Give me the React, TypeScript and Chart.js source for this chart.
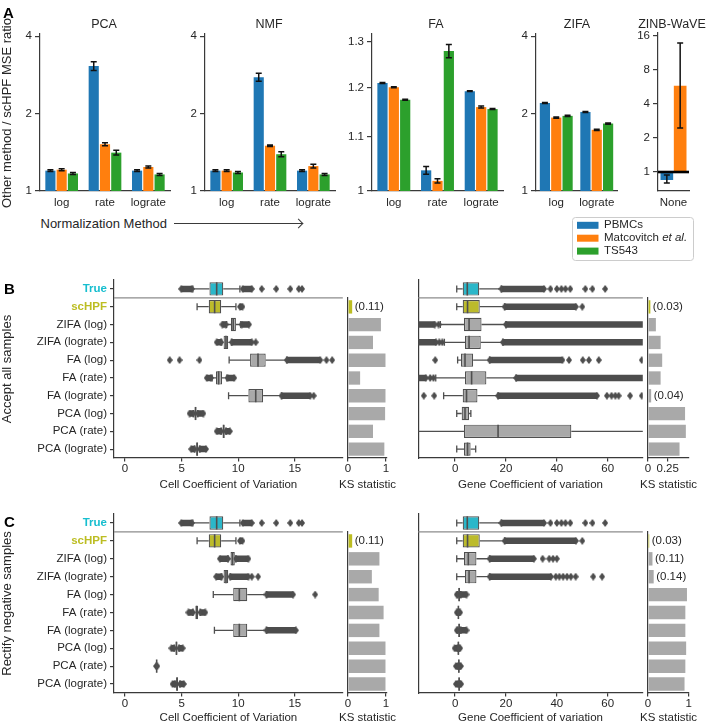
import React, { useEffect, useRef } from 'react';
import { Chart, registerables } from 'chart.js';

Chart.register(...registerables);

const FONT = "'Liberation Sans', Arial, Helvetica, sans-serif";
const TEXT = '#262626';
const AXIS = '#3a3a3a';
const EDGE = '#4f4f4f';
const OUTLIER = '#4d4d4d';
const GRAY_FILL = '#a9a9a9';
const TRUE_FILL = '#2bb7c9';
const SCHPF_FILL = '#bcbb2b';
const TRUE_LABEL = '#17becf';
const SCHPF_LABEL = '#bcbd22';

Chart.defaults.font.family = FONT;
Chart.defaults.color = TEXT;

// ---------------- Panel A data ----------------
const seriesNames = ['PBMCs', 'Matcovitch et al.', 'TS543'];
const seriesColors = ['#1f77b4', '#ff7f0e', '#2ca02c'];

const pcaMethods = ['log', 'rate', 'lograte'];
const pcaPBMC = [1.2, 3.06, 1.2];
const pcaMatc = [1.21, 1.52, 1.24];
const pcaTS = [1.17, 1.41, 1.16];
const pcaErrPBMC = [0.01, 0.12, 0.01];
const pcaErrMatc = [0.01, 0.02, 0.01];
const pcaErrTS = [0.01, 0.03, 0.01];

const nmfMethods = ['log', 'rate', 'lograte'];
const nmfPBMC = [1.2, 2.77, 1.2];
const nmfMatc = [1.2, 1.5, 1.25];
const nmfTS = [1.18, 1.39, 1.16];
const nmfErrPBMC = [0.01, 0.1, 0.01];
const nmfErrMatc = [0.01, 0.01, 0.02];
const nmfErrTS = [0.01, 0.03, 0.01];

const faMethods = ['log', 'rate', 'lograte'];
const faPBMC = [1.209, 1.037, 1.192];
const faMatc = [1.2, 1.018, 1.159];
const faTS = [1.174, 1.279, 1.155];
const faErrPBMC = [0.001, 0.007, 0.001];
const faErrMatc = [0.001, 0.004, 0.002];
const faErrTS = [0.001, 0.015, 0.001];

const zifaMethods = ['log', 'lograte'];
const zifaPBMC = [2.2, 2.03];
const zifaMatc = [1.93, 1.73];
const zifaTS = [1.96, 1.83];
const zifaErrPBMC = [0.01, 0.01];
const zifaErrMatc = [0.01, 0.01];
const zifaErrTS = [0.01, 0.01];

const zinbMethods = ['None'];
const zinbPBMC = [0.85];
const zinbMatc = [5.8];
const zinbLoPBMC = [0.8];
const zinbHiPBMC = [0.94];
const zinbLoMatc = [2.45];
const zinbHiMatc = [13.9];

const ratioTicks = [1, 2, 4];
const faTicks = [1, 1.1, 1.2, 1.3];
const zinbTicks = [1, 2, 4, 8, 16];

// ---------------- Panels B / C data ----------------
const boxRows = ['True', 'scHPF', 'ZIFA (log)', 'ZIFA (lograte)', 'FA (log)', 'FA (rate)', 'FA (lograte)', 'PCA (log)', 'PCA (rate)', 'PCA (lograte)'];
const ksRows = boxRows.slice(1);

// [whiskerLow, q1, median, q3, whiskerHigh]
const cellAcceptStats = [
  [6.0, 7.46, 8.1, 8.68, 10.15],
  [6.37, 7.4, 7.92, 8.5, 9.8],
  [8.98, 9.36, 9.56, 9.8, 10.23],
  [8.55, 8.71, 8.92, 9.12, 9.4],
  [9.2, 11.05, 11.75, 12.43, 14.3],
  [7.7, 8.04, 8.27, 8.57, 9.0],
  [9.15, 10.9, 11.55, 12.2, 13.83],
  [6.05, 6.16, 6.23, 6.31, 6.42],
  [8.5, 8.64, 8.71, 8.8, 8.92],
  [6.15, 6.3, 6.37, 6.46, 6.6],
];
const cellAcceptDenseLo = [[4.97, 5.9], null, [8.6, 8.9], [8.1, 8.48], null, [7.22, 7.6], null, [5.7, 6.05], [8.1, 8.5], [5.85, 6.15]];
const cellAcceptDenseHi = [[10.4, 11.2], [10.15, 10.38], [10.3, 10.96], [9.44, 11.2], [14.3, 17.25], [9.06, 9.65], [13.83, 16.37], [6.42, 6.93], [8.92, 9.27], [6.6, 7.16]];
const cellAcceptPoints = [[12.08, 13.36, 14.6, 15.35, 15.64], [], [], [11.55], [3.95, 4.82, 6.58, 17.8, 18.3], [], [16.67], [], [], []];

const cellRectifyStats = [
  [6.0, 7.46, 8.1, 8.68, 10.15],
  [6.37, 7.4, 7.92, 8.5, 9.8],
  [9.1, 9.32, 9.5, 9.7, 9.78],
  [8.55, 8.71, 8.92, 9.12, 9.3],
  [7.8, 9.56, 10.1, 10.8, 12.5],
  [6.0, 6.22, 6.33, 6.45, 6.65],
  [7.9, 9.56, 10.1, 10.8, 12.5],
  [4.35, 4.47, 4.55, 4.62, 4.78],
  [2.78, 2.78, 2.8, 2.82, 2.82],
  [4.42, 4.52, 4.6, 4.68, 4.85],
];
const cellRectifyDenseLo = [[4.97, 5.9], null, [8.38, 9.1], [8.05, 8.5], null, [5.6, 6.0], null, [4.1, 4.35], null, [4.2, 4.42]];
const cellRectifyDenseHi = [[10.4, 11.2], [10.15, 10.38], [9.8, 10.9], [9.3, 10.9], [12.5, 14.85], [6.65, 7.1], [12.5, 15.1], [4.78, 5.1], null, [4.85, 5.2]];
const cellRectifyPoints = [[12.08, 13.36, 14.6, 15.35, 15.64], [], [], [11.2, 11.76], [16.8], [], [], [], [2.74, 2.86], []];

const geneAcceptStats = [
  [0.65, 3.0, 4.8, 9.5, 18.2],
  [0.65, 3.0, 4.9, 9.7, 19.5],
  [-5.8, 3.5, 5.5, 10.4, 20],
  [-4.2, 3.9, 5.5, 10.1, 18.8],
  [1.0, 2.3, 3.9, 7.1, 13.6],
  [-7.6, 3.9, 6.5, 12.3, 24],
  [-4.5, 3.0, 4.5, 8.8, 16.9],
  [0.65, 2.6, 3.9, 5.5, 6.2],
  [-20, 3.5, 16.9, 45.7, 90],
  [0.65, 3.5, 4.9, 6.1, 8.1],
];
const geneAcceptDenseLo = [null, null, [-20, -8], [-20, -7.5], null, [-20, -11.5], null, null, null, null];
const geneAcceptDenseHi = [[18.2, 35], [19.5, 47.5], [20, 80], [18.8, 80], [13.6, 42.2], [24, 80], [16.9, 55.8], null, null, null];
const geneAcceptPoints = [
  [37.5, 40, 41.8, 43.4, 45.3, 51.2, 54, 59],
  [50],
  [-6.5],
  [-6.2, -5.0],
  [-7.8, 44.8, 50.2, 52.6, 56.5, 73.4],
  [-9.8, -8.5],
  [-12.3, -8.2, 59.7, 61.5, 63, 64.3, 68.8, 73.4],
  [], [], [],
];

const geneRectifyStats = [
  [0.65, 3.0, 4.8, 9.5, 18.2],
  [0.65, 3.0, 4.9, 9.7, 19.5],
  [0.65, 3.5, 5.2, 8.4, 13.6],
  [0.65, 3.9, 5.5, 8.4, 13.6],
  [1.0, 1.3, 1.6, 1.9, 2.2],
  [1.0, 1.1, 1.3, 1.5, 1.6],
  [1.0, 1.3, 1.6, 1.9, 2.2],
  [0.9, 1.0, 1.3, 1.5, 1.6],
  [1.1, 1.2, 1.5, 1.7, 1.8],
  [1.2, 1.3, 1.6, 1.8, 1.9],
];
const geneRectifyDenseLo = [null, null, null, null, [0.65, 1.0], [0.65, 1.0], [0.65, 1.0], [-0.2, 0.9], [0.3, 1.1], [0.3, 1.2]];
const geneRectifyDenseHi = [[18.2, 35], [19.5, 47.5], [13.6, 31], [13.6, 37.7], [2.2, 4.5], [1.6, 2.0], [2.2, 4.5], [1.6, 2.0], [1.8, 2.3], [1.9, 2.4]];
const geneRectifyPoints = [
  [37.5, 40, 41.8, 43.4, 45.3, 51.2, 54, 59],
  [50],
  [34.4, 37, 38.5, 40],
  [39.6, 41, 42.5, 44, 45.5, 47.4, 54.3, 57.8],
  [], [], [], [], [], [],
];

const ksAcceptCell = [0.11, 0.87, 0.66, 0.99, 0.32, 0.99, 0.98, 0.66, 0.96];
const ksAcceptCellText = ['(0.11)', '', '', '', '', '', '', '', ''];
const ksAcceptGene = [0.03, 0.1, 0.16, 0.18, 0.16, 0.04, 0.47, 0.48, 0.4];
const ksAcceptGeneText = ['(0.03)', '', '', '', '', '(0.04)', '', '', ''];
const ksRectifyCell = [0.11, 0.83, 0.63, 0.81, 0.94, 0.83, 0.99, 0.99, 0.99];
const ksRectifyCellText = ['(0.11)', '', '', '', '', '', '', '', ''];
const ksRectifyGene = [0.03, 0.11, 0.14, 0.96, 0.92, 0.92, 0.94, 0.92, 0.9];
const ksRectifyGeneText = ['(0.03)', '(0.11)', '(0.14)', '', '', '', '', '', ''];

const cellTicks = [0, 5, 10, 15];
const geneTicks = [0, 20, 40, 60];
const ksTicksWide = [0, 1];
const ksTicksNarrow = [0, 0.25];

// ---------------- helpers ----------------
const tickFont = { family: FONT, size: 11.5 };
const axisBorder = { display: true, color: AXIS, width: 1.2 };
const tickMarks = (len: number) => ({ display: true, drawOnChartArea: false, drawTicks: true, tickLength: len, color: AXIS, lineWidth: 1.2, offset: false });

const baseOptions = (padTop = 10, padRight = 8) => ({
  responsive: false,
  maintainAspectRatio: false,
  animation: false,
  events: [],
  layout: { padding: { top: padTop, right: padRight, bottom: 0, left: 0 } },
  plugins: { legend: { display: false }, tooltip: { enabled: false }, title: { display: false } },
});

const errorBarPlugin = {
  id: 'errorBars',
  afterDatasetsDraw(chart: any) {
    const ctx = chart.ctx;
    const yScale = chart.scales.y;
    chart.data.datasets.forEach((ds: any, i: number) => {
      if (!ds.errLo) return;
      const meta = chart.getDatasetMeta(i);
      meta.data.forEach((el: any, j: number) => {
        const lo = ds.errLo[j];
        const hi = ds.errHi[j];
        if (lo == null || hi == null) return;
        const x = el.x;
        const y1 = yScale.getPixelForValue(lo);
        const y2 = yScale.getPixelForValue(hi);
        ctx.save();
        ctx.strokeStyle = '#111111';
        ctx.lineWidth = 1.5;
        ctx.beginPath();
        ctx.moveTo(x, y1); ctx.lineTo(x, y2);
        ctx.moveTo(x - 3, y1); ctx.lineTo(x + 3, y1);
        ctx.moveTo(x - 3, y2); ctx.lineTo(x + 3, y2);
        ctx.stroke();
        ctx.restore();
      });
    });
  },
};

const refLinePlugin = (value: number) => ({
  id: 'refLine',
  afterDatasetsDraw(chart: any) {
    const ctx = chart.ctx;
    const a = chart.chartArea;
    const y = chart.scales.y.getPixelForValue(value);
    ctx.save();
    ctx.strokeStyle = '#000000';
    ctx.lineWidth = 2.6;
    ctx.beginPath();
    ctx.moveTo(a.left, y); ctx.lineTo(a.right, y);
    ctx.stroke();
    ctx.restore();
  },
});

const separatorPlugin = {
  id: 'separator',
  afterDatasetsDraw(chart: any) {
    const ctx = chart.ctx;
    const a = chart.chartArea;
    const ys = chart.scales.y;
    const y = (ys.getPixelForValue(0) + ys.getPixelForValue(1)) / 2;
    ctx.save();
    ctx.strokeStyle = '#8c8c8c';
    ctx.lineWidth = 1.2;
    ctx.beginPath();
    ctx.moveTo(a.left, y); ctx.lineTo(a.right, y);
    ctx.stroke();
    ctx.restore();
  },
};

// x-axis title drawn without width constraint, centred on the plot area
const freeTitlePlugin = (text: string) => ({
  id: 'freeTitle',
  afterDraw(chart: any) {
    const ctx = chart.ctx;
    const a = chart.chartArea;
    ctx.save();
    ctx.font = `11.5px ${FONT}`;
    ctx.fillStyle = TEXT;
    ctx.textAlign = 'center';
    ctx.textBaseline = 'middle';
    ctx.fillText(text, (a.left + a.right) / 2, chart.height - 6.9);
    ctx.restore();
  },
});

const ksTextPlugin = {
  id: 'ksText',
  afterDatasetsDraw(chart: any) {
    const ctx = chart.ctx;
    const ds = chart.data.datasets[0];
    const meta = chart.getDatasetMeta(0);
    ctx.save();
    ctx.font = `11.5px ${FONT}`;
    ctx.fillStyle = TEXT;
    ctx.textBaseline = 'middle';
    ctx.textAlign = 'left';
    meta.data.forEach((el: any, j: number) => {
      const t = ds.ksText[j];
      if (t) ctx.fillText(t, el.x + 2.5, el.y);
    });
    ctx.restore();
  },
};

function makeDiamond(): HTMLCanvasElement {
  const c = document.createElement('canvas');
  c.width = 6; c.height = 8;
  const g = c.getContext('2d')!;
  g.fillStyle = OUTLIER;
  g.beginPath();
  g.moveTo(3, 0); g.lineTo(6, 4); g.lineTo(3, 8); g.lineTo(0, 4);
  g.closePath();
  g.fill();
  return c;
}

// ---------------- Panel A config ----------------
interface ASpec {
  labels: string[];
  values: number[][];
  lo: number[][];
  hi: number[][];
  min: number;
  max: number;
  ticks: number[];
  yw: number;
  catPct: number;
  barPct: number;
  refLine?: number;
}

const symLo = (v: number[], e: number[]) => v.map((x, i) => x - e[i]);
const symHi = (v: number[], e: number[]) => v.map((x, i) => x + e[i]);

function barAConfig(s: ASpec) {
  const plugins: any[] = [errorBarPlugin];
  if (s.refLine !== undefined) plugins.push(refLinePlugin(s.refLine));
  return {
    type: 'bar',
    data: {
      labels: s.labels,
      datasets: s.values.map((vals, k) => ({
        label: seriesNames[k],
        data: vals.map((v) => [1, v]),
        backgroundColor: seriesColors[k],
        borderWidth: 0,
        categoryPercentage: s.catPct,
        barPercentage: s.barPct,
        errLo: s.lo[k],
        errHi: s.hi[k],
      })),
    },
    options: {
      ...baseOptions(10, 8),
      scales: {
        x: {
          type: 'category',
          afterFit: (sc: any) => { sc.height = 22; },
          grid: { display: false, drawTicks: false },
          border: axisBorder,
          ticks: { font: tickFont, color: TEXT, padding: 4.5, maxRotation: 0, autoSkip: false },
        },
        y: {
          type: 'logarithmic',
          min: s.min,
          max: s.max,
          afterBuildTicks: (sc: any) => { sc.ticks = s.ticks.map((v) => ({ value: v })); },
          afterFit: (sc: any) => { sc.width = s.yw; },
          grid: tickMarks(5),
          border: axisBorder,
          ticks: { font: tickFont, color: TEXT, padding: 3, autoSkip: false, callback: (v: any) => String(v) },
        },
      },
    },
    plugins,
  };
}

// ---------------- Box chart config ----------------
interface BoxSpec {
  stats: number[][];
  denseLo: (number[] | null)[];
  denseHi: (number[] | null)[];
  points: number[][];
  min: number;
  max: number;
  ticks: number[];
  yw: number;
  xh: number;
  showLabels: boolean;
  yTitle?: string;
  xTitle: string;
}

function boxConfig(s: BoxSpec) {
  const diamond = makeDiamond();
  const boxColors = boxRows.map((_, i) => (i === 0 ? TRUE_FILL : i === 1 ? SCHPF_FILL : GRAY_FILL));
  const labelColors = boxRows.map((_, i) => (i === 0 ? TRUE_LABEL : i === 1 ? SCHPF_LABEL : TEXT));
  const caps: any[] = [];
  const medians: any[] = [];
  const outs: any[] = [];
  s.stats.forEach((st, i) => {
    const row = boxRows[i];
    if (st[0] < st[1]) caps.push({ x: st[0], y: row });
    if (st[4] > st[3]) caps.push({ x: st[4], y: row });
    medians.push({ x: st[2], y: row });
    s.points[i].forEach((p) => outs.push({ x: p, y: row }));
    [s.denseLo[i], s.denseHi[i]].forEach((r) => {
      if (r) { outs.push({ x: r[0], y: row }); outs.push({ x: r[1], y: row }); }
    });
  });
  const thin = { type: 'bar', backgroundColor: EDGE, barThickness: 1.3, grouped: false, inflateAmount: 0, borderWidth: 0, order: 6 };
  const dense = { type: 'bar', backgroundColor: OUTLIER, barThickness: 6.5, grouped: false, inflateAmount: 0, borderWidth: 0, order: 5 };
  return {
    type: 'bar',
    data: {
      labels: boxRows,
      datasets: [
        { ...thin, data: s.stats.map((st) => (st[0] < st[1] ? [st[0], st[1]] : null)) },
        { ...thin, data: s.stats.map((st) => (st[4] > st[3] ? [st[3], st[4]] : null)) },
        { ...dense, data: s.denseLo },
        { ...dense, data: s.denseHi },
        {
          type: 'bar',
          data: s.stats.map((st) => [st[1], st[3]]),
          backgroundColor: boxColors,
          borderColor: EDGE,
          borderWidth: 1.2,
          borderSkipped: false,
          barPercentage: 0.75,
          categoryPercentage: 1,
          grouped: false,
          order: 2,
        },
        {
          type: 'scatter', data: caps, pointStyle: 'line', pointRotation: 90, pointRadius: 3.5,
          pointBorderColor: EDGE, pointBorderWidth: 1.3, order: 3,
        },
        {
          type: 'scatter', data: outs, pointStyle: diamond, pointRadius: 3, order: 4,
        },
        {
          type: 'scatter', data: medians, pointStyle: 'line', pointRotation: 90, pointRadius: 6.6,
          pointBorderColor: EDGE, pointBorderWidth: 1.6, order: 1,
        },
      ],
    },
    options: {
      ...baseOptions(10, 8),
      indexAxis: 'y',
      scales: {
        x: {
          type: 'linear',
          min: s.min,
          max: s.max,
          afterBuildTicks: (sc: any) => { sc.ticks = s.ticks.map((v) => ({ value: v })); },
          afterFit: (sc: any) => { sc.height = s.xh; },
          grid: tickMarks(3.5),
          border: axisBorder,
          ticks: { font: tickFont, color: TEXT, padding: 0, maxRotation: 0, autoSkip: false, callback: (v: any) => String(v) },
        },
        y: {
          type: 'category',
          offset: true,
          afterFit: (sc: any) => { sc.width = s.yw; },
          grid: s.showLabels ? tickMarks(4) : { display: false },
          border: axisBorder,
          ticks: {
            display: s.showLabels,
            autoSkip: false,
            padding: 3,
            color: (c: any) => labelColors[c.index] || TEXT,
            font: (c: any) => ({ family: FONT, size: 11.5, weight: c.index < 2 ? 'bold' : 'normal' }),
          },
          title: s.yTitle
            ? { display: true, text: s.yTitle, font: { family: FONT, size: 13 }, color: TEXT, padding: 0 }
            : { display: false },
        },
      },
    },
    plugins: [separatorPlugin, freeTitlePlugin(s.xTitle)],
  };
}

// ---------------- KS chart config ----------------
function ksConfig(vals: number[], texts: string[], max: number, ticks: number[], xh: number, yw: number, padRight: number) {
  return {
    type: 'bar',
    data: {
      labels: ksRows,
      datasets: [{
        data: vals,
        backgroundColor: ksRows.map((_, i) => (i === 0 ? SCHPF_LABEL : GRAY_FILL)),
        borderWidth: 0,
        barPercentage: 0.75,
        categoryPercentage: 1,
        ksText: texts,
      }],
    },
    options: {
      ...baseOptions(10, padRight),
      indexAxis: 'y',
      scales: {
        x: {
          type: 'linear',
          min: 0,
          max,
          afterBuildTicks: (sc: any) => { sc.ticks = ticks.map((v) => ({ value: v })); },
          afterFit: (sc: any) => { sc.height = xh; },
          grid: tickMarks(3.5),
          border: axisBorder,
          ticks: { font: tickFont, color: TEXT, padding: 0, maxRotation: 0, autoSkip: false, callback: (v: any) => String(v) },
        },
        y: {
          type: 'category',
          offset: true,
          afterFit: (sc: any) => { sc.width = yw; },
          grid: { display: false },
          border: axisBorder,
          ticks: { display: false },
        },
      },
    },
    plugins: [ksTextPlugin, freeTitlePlugin('KS statistic')],
  };
}

// ---------------- Legend config ----------------
const legendPlugin = {
  id: 'boxedLegend',
  afterDraw(chart: any) {
    const ctx = chart.ctx;
    const w = chart.width;
    const h = chart.height;
    ctx.save();
    const r = 3;
    ctx.beginPath();
    ctx.moveTo(0.5 + r, 0.5);
    ctx.lineTo(w - 0.5 - r, 0.5);
    ctx.arcTo(w - 0.5, 0.5, w - 0.5, 0.5 + r, r);
    ctx.lineTo(w - 0.5, h - 0.5 - r);
    ctx.arcTo(w - 0.5, h - 0.5, w - 0.5 - r, h - 0.5, r);
    ctx.lineTo(0.5 + r, h - 0.5);
    ctx.arcTo(0.5, h - 0.5, 0.5, h - 0.5 - r, r);
    ctx.lineTo(0.5, 0.5 + r);
    ctx.arcTo(0.5, 0.5, 0.5 + r, 0.5, r);
    ctx.closePath();
    ctx.fillStyle = 'rgba(255,255,255,0.85)';
    ctx.fill();
    ctx.strokeStyle = '#cccccc';
    ctx.lineWidth = 1;
    ctx.stroke();
    ctx.textBaseline = 'middle';
    ctx.textAlign = 'left';
    chart.data.datasets.forEach((ds: any, i: number) => {
      const y = 8.3 + i * 12.9;
      ctx.fillStyle = ds.backgroundColor;
      ctx.fillRect(5, y - 3.5, 21.5, 7);
      ctx.fillStyle = TEXT;
      const name: string = ds.label;
      const marker = ' et al.';
      if (name.includes(marker)) {
        const head = name.replace(marker, '') + ' ';
        ctx.font = `11.5px ${FONT}`;
        ctx.fillText(head, 32, y);
        const wHead = ctx.measureText(head).width;
        ctx.font = `italic 11.5px ${FONT}`;
        ctx.fillText('et al.', 32 + wHead, y);
      } else {
        ctx.font = `11.5px ${FONT}`;
        ctx.fillText(name, 32, y);
      }
    });
    ctx.restore();
  },
};

function legendConfig() {
  return {
    type: 'bar',
    data: {
      labels: [],
      datasets: seriesNames.map((n, k) => ({ label: n, data: [], backgroundColor: seriesColors[k] })),
    },
    options: {
      ...baseOptions(0, 0),
      scales: { x: { display: false }, y: { display: false } },
    },
    plugins: [legendPlugin],
  };
}

// ---------------- Hosts ----------------
interface Host { id: string; left: number; top: number; width: number; height: number; make: () => any }

const hosts: Host[] = [
  {
    id: 'pca', left: 10, top: 24, width: 168, height: 189,
    make: () => barAConfig({
      labels: pcaMethods, values: [pcaPBMC, pcaMatc, pcaTS],
      lo: [symLo(pcaPBMC, pcaErrPBMC), symLo(pcaMatc, pcaErrMatc), symLo(pcaTS, pcaErrTS)],
      hi: [symHi(pcaPBMC, pcaErrPBMC), symHi(pcaMatc, pcaErrMatc), symHi(pcaTS, pcaErrTS)],
      min: 1, max: 4.08, ticks: ratioTicks, yw: 30, catPct: 0.78, barPct: 0.9,
    }),
  },
  {
    id: 'nmf', left: 175, top: 24, width: 168, height: 189,
    make: () => barAConfig({
      labels: nmfMethods, values: [nmfPBMC, nmfMatc, nmfTS],
      lo: [symLo(nmfPBMC, nmfErrPBMC), symLo(nmfMatc, nmfErrMatc), symLo(nmfTS, nmfErrTS)],
      hi: [symHi(nmfPBMC, nmfErrPBMC), symHi(nmfMatc, nmfErrMatc), symHi(nmfTS, nmfErrTS)],
      min: 1, max: 4.08, ticks: ratioTicks, yw: 30, catPct: 0.78, barPct: 0.9,
    }),
  },
  {
    id: 'fa', left: 337, top: 24, width: 174, height: 189,
    make: () => barAConfig({
      labels: faMethods, values: [faPBMC, faMatc, faTS],
      lo: [symLo(faPBMC, faErrPBMC), symLo(faMatc, faErrMatc), symLo(faTS, faErrTS)],
      hi: [symHi(faPBMC, faErrPBMC), symHi(faMatc, faErrMatc), symHi(faTS, faErrTS)],
      min: 1, max: 1.318, ticks: faTicks, yw: 35, catPct: 0.78, barPct: 0.9,
    }),
  },
  {
    id: 'zifa', left: 506, top: 24, width: 119, height: 189,
    make: () => barAConfig({
      labels: zifaMethods, values: [zifaPBMC, zifaMatc, zifaTS],
      lo: [symLo(zifaPBMC, zifaErrPBMC), symLo(zifaMatc, zifaErrMatc), symLo(zifaTS, zifaErrTS)],
      hi: [symHi(zifaPBMC, zifaErrPBMC), symHi(zifaMatc, zifaErrMatc), symHi(zifaTS, zifaErrTS)],
      min: 1, max: 4.08, ticks: ratioTicks, yw: 30, catPct: 0.84, barPct: 0.9,
    }),
  },
  {
    id: 'zinb', left: 628, top: 23, width: 69, height: 190,
    make: () => barAConfig({
      labels: zinbMethods, values: [zinbPBMC, zinbMatc],
      lo: [zinbLoPBMC, zinbLoMatc], hi: [zinbHiPBMC, zinbHiMatc],
      min: 0.679, max: 17, ticks: zinbTicks, yw: 30, catPct: 0.86, barPct: 0.95, refLine: 1,
    }),
  },
  { id: 'legend', left: 572, top: 217, width: 122, height: 44, make: () => legendConfig() },
  {
    id: 'bCell', left: 0, top: 270, width: 351, height: 222,
    make: () => boxConfig({
      stats: cellAcceptStats, denseLo: cellAcceptDenseLo, denseHi: cellAcceptDenseHi, points: cellAcceptPoints,
      min: -0.97, max: 19.24, ticks: cellTicks, yw: 114, xh: 34, showLabels: true,
      yTitle: 'Accept all samples', xTitle: 'Cell Coefficient of Variation',
    }),
  },
  { id: 'bKsCell', left: 330, top: 288, width: 72, height: 204, make: () => ksConfig(ksAcceptCell, ksAcceptCellText, 1.03, ksTicksWide, 34, 18, 15) },
  {
    id: 'bGene', left: 410, top: 270, width: 241, height: 222,
    make: () => boxConfig({
      stats: geneAcceptStats, denseLo: geneAcceptDenseLo, denseHi: geneAcceptDenseHi, points: geneAcceptPoints,
      min: -14.5, max: 73.8, ticks: geneTicks, yw: 6, xh: 34, showLabels: false,
      xTitle: 'Gene Coefficient of variation',
    }),
  },
  { id: 'bKsGene', left: 634, top: 288, width: 75, height: 204, make: () => ksConfig(ksAcceptGene, ksAcceptGeneText, 0.52, ksTicksNarrow, 34, 14, 20) },
  {
    id: 'cCell', left: 0, top: 504, width: 351, height: 221,
    make: () => boxConfig({
      stats: cellRectifyStats, denseLo: cellRectifyDenseLo, denseHi: cellRectifyDenseHi, points: cellRectifyPoints,
      min: -0.97, max: 19.24, ticks: cellTicks, yw: 114, xh: 32, showLabels: true,
      yTitle: 'Rectify negative samples', xTitle: 'Cell Coefficient of Variation',
    }),
  },
  { id: 'cKsCell', left: 330, top: 522, width: 72, height: 203, make: () => ksConfig(ksRectifyCell, ksRectifyCellText, 1.03, ksTicksWide, 32, 18, 15) },
  {
    id: 'cGene', left: 410, top: 504, width: 241, height: 221,
    make: () => boxConfig({
      stats: geneRectifyStats, denseLo: geneRectifyDenseLo, denseHi: geneRectifyDenseHi, points: geneRectifyPoints,
      min: -14.5, max: 73.8, ticks: geneTicks, yw: 6, xh: 32, showLabels: false,
      xTitle: 'Gene Coefficient of variation',
    }),
  },
  { id: 'cKsGene', left: 634, top: 522, width: 75, height: 203, make: () => ksConfig(ksRectifyGene, ksRectifyGeneText, 1.01, ksTicksWide, 32, 14, 20) },
];

const subplotTitles = [
  { text: 'PCA', cx: 104 },
  { text: 'NMF', cx: 269 },
  { text: 'FA', cx: 436 },
  { text: 'ZIFA', cx: 577 },
  { text: 'ZINB-WaVE', cx: 672 },
];

const panelLetters = [
  { text: 'A', x: 3, y: 4.5 },
  { text: 'B', x: 4, y: 280.5 },
  { text: 'C', x: 4, y: 513.5 },
];

function ChartCanvas({ host }: { host: Host }) {
  const ref = useRef<HTMLCanvasElement | null>(null);
  useEffect(() => {
    if (!ref.current) return;
    const chart = new Chart(ref.current, host.make());
    return () => chart.destroy();
  }, [host]);
  return (
    <canvas
      ref={ref}
      width={host.width}
      height={host.height}
      style={{ position: 'absolute', left: host.left, top: host.top, width: host.width, height: host.height }}
    />
  );
}

export default function App() {
  return (
    <div style={{ position: 'absolute', left: 0, top: 0, width: 709, height: 725, overflow: 'hidden', background: '#ffffff', fontFamily: FONT, color: TEXT }}>
      {hosts.map((h) => <ChartCanvas key={h.id} host={h} />)}
      {subplotTitles.map((t) => (
        <div key={t.text} style={{ position: 'absolute', left: t.cx - 60, top: 16.5, width: 120, textAlign: 'center', fontSize: 12.5, lineHeight: '15px', whiteSpace: 'nowrap' }}>{t.text}</div>
      ))}
      {panelLetters.map((p) => (
        <div key={p.text} style={{ position: 'absolute', left: p.x, top: p.y, fontSize: 15, lineHeight: '15px', fontWeight: 'bold', color: '#000' }}>{p.text}</div>
      ))}
      <div style={{ position: 'absolute', left: 6.5 - 110, top: 113 - 8, width: 220, height: 16, lineHeight: '16px', textAlign: 'center', fontSize: 13, whiteSpace: 'nowrap', transform: 'rotate(-90deg)' }}>Other method / scHPF MSE ratio</div>
      <div style={{ position: 'absolute', left: 40.5, top: 216, fontSize: 13, lineHeight: '16px', whiteSpace: 'nowrap' }}>Normalization Method</div>
      <div style={{ position: 'absolute', left: 174, top: 223.4, width: 129, height: 0, borderTop: `1.2px solid ${AXIS}` }} />
      <div style={{ position: 'absolute', left: 295, top: 220.4, width: 7, height: 7, boxSizing: 'border-box', borderTop: `1.2px solid ${AXIS}`, borderRight: `1.2px solid ${AXIS}`, transform: 'rotate(45deg)' }} />
    </div>
  );
}
